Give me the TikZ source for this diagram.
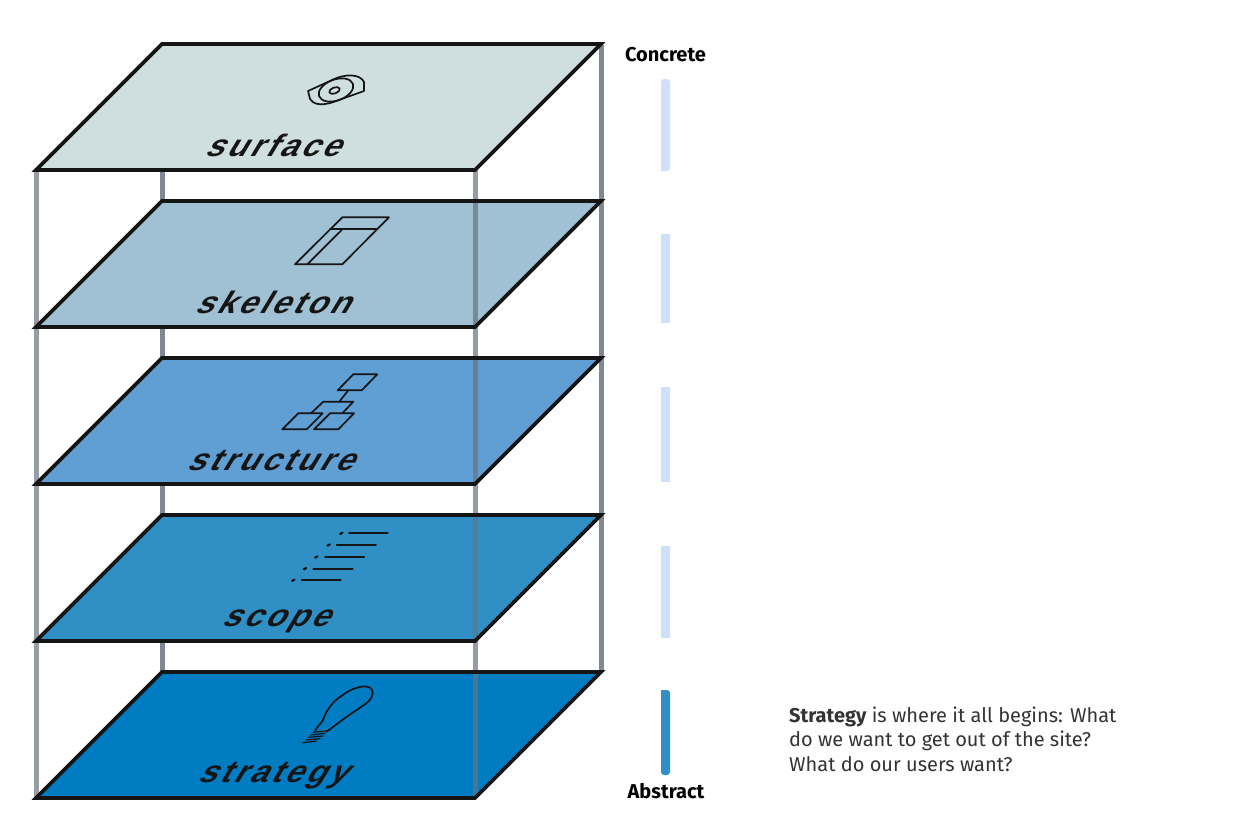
\documentclass[tikz,border=0pt]{standalone}
\usepackage{fontspec}
\setmainfont{Fira Sans}
\newfontfamily\lab[FakeSlant=0.6,FakeStretch=1.05,LetterSpace=10]{Liberation Sans}
\definecolor{edgeblack}{HTML}{151515}
\definecolor{postgray}{HTML}{6A7380}
\definecolor{barlight}{HTML}{CFE0F9}
\definecolor{baractive}{HTML}{2F8FC6}
\definecolor{planeA}{HTML}{CFDFE0}
\definecolor{planeB}{HTML}{A0C0D3}
\definecolor{planeC}{HTML}{609FD3}
\definecolor{planeD}{HTML}{308FC5}
\definecolor{planeE}{HTML}{007CC3}
\tikzset{
  backpost/.style={line width=5pt,draw=postgray!85!white},
  frontpost/.style={line width=5pt,draw=postgray,opacity=.7},
  planeedge/.style={line width=3.7pt,draw=edgeblack,line join=miter},
  icon/.style={line width=1.7pt,draw=edgeblack,line join=round,line cap=round},
  layerlabel/.style={anchor=base west,inner sep=0pt,text=edgeblack,font=\lab\bfseries\fontsize{31}{31}\selectfont},
  endlabel/.style={anchor=base,inner sep=0pt,text=black,font=\fontsize{20}{20}\selectfont\bfseries},
  bodytext/.style={anchor=base west,inner sep=0pt,text=black!80,font=\fontsize{20}{20}\selectfont}
}
\begin{document}
\begin{tikzpicture}[x=1pt,y=-1pt]
\useasboundingbox (0,0) rectangle (1250,833);
% back posts
\draw[backpost] (162,45) -- (162,672);
\draw[backpost] (601,45) -- (601,672);
% plane fills
\foreach \yy/\cc in {170/planeA,327/planeB,484/planeC,641/planeD,798/planeE}{
  \fill[\cc] (36,\yy) -- (475,\yy) -- (601,\yy-126) -- (162,\yy-126) -- cycle;
}
% front posts
\draw[frontpost] (36,170) -- (36,798);
\draw[frontpost] (475,170) -- (475,798);
% plane edges
\foreach \yy in {170,327,484,641,798}{
  \draw[planeedge] (36,\yy) -- (475,\yy) -- (601,\yy-126) -- (162,\yy-126) -- cycle;
}
% icons
% disc
\draw[icon] (308,91) -- (330,81) .. controls (338,77) and (345,75) .. (352,75.5) .. controls (358,76) and (362,78) .. (364,82) -- (364,91) -- (332,102.5) .. controls (320,106) and (313,104) .. (310,99) -- cycle;
\draw[icon] (336,90) ellipse [x radius=18,y radius=10.5,rotate=20];
\draw[icon] (334.5,90.5) ellipse [x radius=5.5,y radius=3,rotate=20];
% wireframe
\draw[icon] (295,264.3) -- (342.3,264.3) -- (389,217.3) -- (342.3,217.3) -- cycle;
\draw[icon] (330,229) -- (377.3,229);
\draw[icon] (307.3,264.3) -- (341.7,230);
% site map
\draw[icon] (337.7,390.3) -- (361.7,390.3) -- (377.3,374.3) -- (353.3,374.3) -- cycle;
\draw[icon] (339.3,401.7) -- (348.3,390.3);
\draw[icon] (311,413.3) -- (323.3,401.7) -- (353.3,401.7) -- (342.3,413.3);
\draw[icon] (282.3,429.3) -- (306.7,429.3) -- (322.7,413.3) -- (298.3,413.3) -- cycle;
\draw[icon] (314,429.3) -- (338.3,429.3) -- (354,413.3) -- (330,413.3) -- cycle;
% list
\foreach \yy/\xa/\xb/\dd in {533.3/349/387.7/341.3,545/336.7/376/328.7,557/325/364.3/316.3,568.7/313.3/352.7/305,580.3/301.7/340.7/293.3}{
  \draw[icon] (\xa,\yy) -- (\xb,\yy);
  \draw[icon,line width=2.2pt] (\dd-1.2,\yy+.6) -- (\dd+1.2,\yy-.6);
}
% bulb
\draw[icon] (315,730.7) .. controls (318,726) and (322,722) .. (323,720) .. controls (326,712) and (328,709) .. (330,706.7) .. controls (334,701) and (338,698) .. (343,695) .. controls (349,690) and (355,688) .. (360,687) .. controls (368,685) and (373,688) .. (372.7,693) .. controls (372,698) and (370,700) .. (366.7,703) .. controls (360,708) and (352,713) .. (346.7,716.7) -- (326.7,731.7);
\draw[icon,line width=1.2pt] (313.3,732.3) -- (326.7,730.7);
\draw[icon,line width=1.2pt] (310.7,735) -- (325,733.3);
\draw[icon,line width=1.2pt] (308.3,737.3) -- (323.3,736);
\draw[icon,line width=1.2pt] (306,740) -- (320,738.7);
\draw[icon,line width=1.2pt] (302.7,742.7) -- (316.7,741);
% layer labels
\node[layerlabel] (surface) at (204,156) {surface};
\node[layerlabel] (skeleton) at (194,313) {skeleton};
\node[layerlabel] (structure) at (186,470) {structure};
\node[layerlabel] (scope) at (221,626) {scope};
\node[layerlabel] (strategy) at (197,782) {strategy};
% scale bars
\fill[barlight,rounded corners=3pt] (661,171) -- (661,79) -- (670,79) -- (670,171) [sharp corners] -- cycle;
\fill[barlight] (661,234) rectangle (670,323);
\fill[barlight] (661,387) rectangle (670,482);
\fill[barlight] (661,546) rectangle (670,638);
\fill[baractive,rounded corners=3pt] (661,690) -- (661,775) -- (670,775) -- (670,690) [sharp corners] -- cycle;
% texts
\node[endlabel] (concrete) at (665.5,61) {Concrete};
\node[endlabel] (abstract) at (666,798) {Abstract};
\node[bodytext] (line1) at (789,722) {\textbf{Strategy} is where it all begins: What};
\node[bodytext] (line2) at (789,746) {do we want to get out of the site?};
\node[bodytext] (line3) at (789,771) {What do our users want?};
\end{tikzpicture}
\end{document}
